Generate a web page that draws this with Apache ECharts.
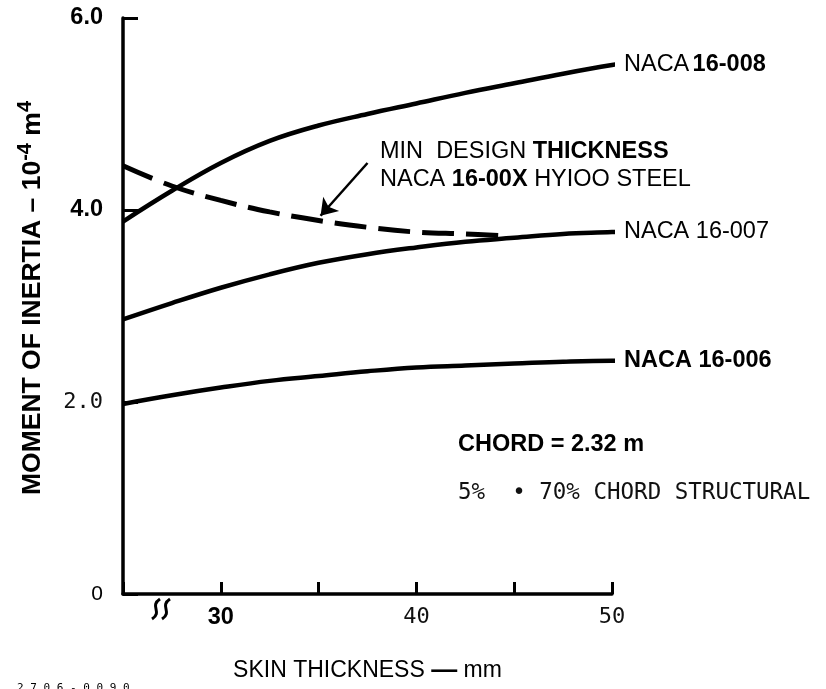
<!DOCTYPE html>
<html><head><meta charset="utf-8">
<script src="https://cdn.jsdelivr.net/npm/echarts@6/dist/echarts.min.js"></script>
<style>html,body{margin:0;padding:0;background:#fff}#c{width:826px;height:689px}</style>
</head><body><div id="c"></div>
<script>
// ---- data ----
const skinThickness = [25, 27.5, 30, 32.5, 35, 37.5, 40, 42.5, 45, 47.5, 50, 50.8];
const naca16008 = [3.88, 4.20, 4.49, 4.72, 4.88, 5.00, 5.11, 5.22, 5.32, 5.42, 5.51, 5.53];
const naca16007 = [2.86, 3.03, 3.19, 3.33, 3.45, 3.54, 3.61, 3.67, 3.71, 3.75, 3.77, 3.78];
const naca16006 = [1.98, 2.07, 2.15, 2.22, 2.27, 2.32, 2.36, 2.38, 2.40, 2.42, 2.43, 2.43];
const minDesignX = [25, 27.5, 30, 32.5, 35, 37.5, 40, 42.5, 44.5];
const minDesignY = [4.46, 4.25, 4.10, 3.98, 3.89, 3.82, 3.77, 3.75, 3.73];
const arrowFrom = [37.5, 4.49];
const arrowTo = [35.1, 3.94];
const xTickLabels = {30: '{b|30}', 40: '{m|40}', 50: '{m|50}'};
const yTickLabels = {0: '{n|0}', 2: '{m|2.0}', 4: '{b|4.0}', 6: '{b|6.0}'};
const seriesNames = ['NACA 16-008', 'NACA 16-007', 'NACA 16-006'];

const SANS = 'Liberation Sans, Arial, sans-serif';
const MONO = 'DejaVu Sans Mono, monospace';
const pair = (xs, ys) => xs.map((x, i) => [x, ys[i]]);

const richAll = {
  r: {fontFamily: SANS, fontSize: 23.5, color: '#000'},
  b: {fontFamily: SANS, fontSize: 23.5, fontWeight: 'bold', color: '#000'},
  m: {fontFamily: MONO, fontSize: 22, color: '#111'},
  n: {fontFamily: SANS, fontSize: 21, color: '#000'},
  d: {fontFamily: SANS, fontSize: 26, fontWeight: 900, color: '#000'}
};

const solid = {color: '#000', width: 4.5};
function curve(name, ys, labelFmt) {
  return {
    name, type: 'line', data: pair(skinThickness, ys), smooth: 0.4,
    symbol: 'none', showSymbol: false, clip: false, lineStyle: solid,
    endLabel: {show: true, distance: 9, formatter: labelFmt, rich: richAll, color: '#000'}
  };
}

const chart = echarts.init(document.getElementById('c'), null, {renderer: 'canvas'});
chart.setOption({
  animation: false,
  backgroundColor: '#fff',
  grid: {left: 123, top: 18, width: 489, height: 591, containLabel: false},
  xAxis: {
    type: 'value', min: 25, max: 50, interval: 5,
    name: 'SKIN THICKNESS {d|\u2014} mm', nameLocation: 'middle', nameGap: 64,
    nameTextStyle: {fontFamily: SANS, fontSize: 23, color: '#000', rich: richAll},
    axisLine: {show: true, onZero: false, lineStyle: {color: '#000', width: 3.5}},
    axisTick: {show: true, inside: true, length: 12, lineStyle: {color: '#000', width: 3}},
    splitLine: {show: false},
    axisLabel: {margin: 12, formatter: v => xTickLabels[v] || '', rich: richAll}
  },
  yAxis: {
    type: 'value', min: 0, max: 6, interval: 2,
    axisLine: {show: true, lineStyle: {color: '#000', width: 3.5}},
    axisTick: {show: true, inside: true, length: 15, lineStyle: {color: '#000', width: 3}},
    splitLine: {show: false},
    axisLabel: {margin: 20, showMinLabel: true, showMaxLabel: true,
      formatter: v => yTickLabels[v] || '', rich: richAll}
  },
  series: [
    curve(seriesNames[0], naca16008, '{r|NACA} {b|16-008}'),
    curve(seriesNames[1], naca16007, '{r|NACA 16-007}'),
    curve(seriesNames[2], naca16006, '{b|NACA 16-006}'),
    {
      name: 'MIN DESIGN THICKNESS', type: 'line', data: pair(minDesignX, minDesignY),
      smooth: 0.4, symbol: 'none', showSymbol: false, clip: false,
      lineStyle: {color: '#000', width: 5, type: [32, 12]},
      markLine: {
        silent: true, symbol: ['none', 'arrow'], symbolSize: 16,
        label: {show: false},
        lineStyle: {color: '#000', width: 2.5, type: 'solid'},
        data: [[{coord: arrowFrom}, {coord: arrowTo}]]
      }
    }
  ],
  graphic: [
    {type: 'text', x: 33, y: 298, rotation: Math.PI / 2,
      style: {text: 'MOMENT OF INERTIA \u2013 10{s|-4} m{s|4}', fill: '#000',
        font: 'bold 26.5px ' + SANS, align: 'center', verticalAlign: 'middle',
        rich: {s: {fontFamily: SANS, fontWeight: 'bold', fontSize: 20, padding: [0, 0, 16, 0]}}}},
    {type: 'text', x: 380, y: 152,
      style: {text: '{r|MIN  DESIGN }{b|THICKNESS}', rich: richAll, verticalAlign: 'middle'}},
    {type: 'text', x: 380, y: 180,
      style: {text: '{r|NACA }{b|16-00X}{r| HYIOO STEEL}', rich: richAll, verticalAlign: 'middle'}},
    {type: 'text', x: 458, y: 445,
      style: {text: 'CHORD = 2.32 m', font: 'bold 23.5px ' + SANS, fill: '#000', verticalAlign: 'middle'}},
    {type: 'text', x: 458, y: 493,
      style: {text: '5%  \u2022 70% CHORD STRUCTURAL', font: '22.5px ' + MONO, fill: '#111', verticalAlign: 'middle'}},
    {type: 'text', x: 17, y: 688,
      style: {text: '2 7 0 6 - 0 0 9 0', font: '11px ' + MONO, fill: '#000', verticalAlign: 'middle'}},
    {type: 'bezierCurve', shape: {x1: 160, y1: 599, cpx1: 149, cpy1: 606, cpx2: 163, cpy2: 612, x2: 152, y2: 619},
      style: {stroke: '#000', lineWidth: 3, fill: null}},
    {type: 'bezierCurve', shape: {x1: 170, y1: 599, cpx1: 159, cpy1: 606, cpx2: 173, cpy2: 612, x2: 162, y2: 619},
      style: {stroke: '#000', lineWidth: 3, fill: null}}
  ]
});
</script></body></html>
